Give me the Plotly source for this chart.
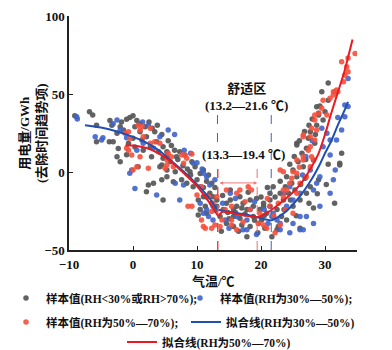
import plotly.graph_objects as go

# ---------------- data ----------------
gray_samples = [
    (-9.1,36),(-6.8,38.6),(-6.3,36.5),(-5.7,30),(-5.7,19.4),(-3.6,33),(-3.3,30),(-3.7,19.4),(-3.1,19.4),
    (-2.5,24.8),(-2,29),(-1.8,32),(-1,33.8),(-0.5,35),(0,36),(0.6,33),(-2.3,15),(-2.5,9.8),(-2,6.6),
    (-1,11),(-0.7,18.4),(0,21.6),(0.3,16),(1.1,25.8),(1.4,20.5),(1.6,14),(1.9,29),(2.1,22.6),(2.7,16.2),
    (2.9,9.8),(3.4,25.8),(3.7,19.4),(4,13),(4.5,4.5),(4.7,16.2),(5.3,9.8),(2.4,-8.3),(2.1,-12.6),(3.2,-7.2),
    (4.5,-5),(5.3,1.3),(0.8,3.4),(4.7,-18),(6.6,0.2),(5.3,-3),(5.8,6.6),(8.9,0.2),(10,-5),(10.2,-18),
    (10.5,-24),(11,1.3),(11.5,-6),(12,-13.7),(12.3,-20),(12.8,-24.4),(9.4,-9.4),(8.4,-7.2),(7.6,-5),
    (6.3,-6.2),(4.2,3.4),(4.7,8.8),(5.3,13),(6.8,9.8),(7.3,13),(8.1,10.9),(9.2,6.6),(9.7,3.4),(11.8,-1.9),
    (12.3,-7.2),(12.5,-15.8),(13.1,-18),(10.2,-27.6),(-1.5,27),(0.3,29),(1,31),(2.5,32),(3,28),(3.8,30),
    (4.5,24),(5.5,20),(6,17),(6.5,14),(7,8),(7.8,4),(8.5,2),(9,-2),(10.5,-1),(11,-10),(11.5,-16),(12.8,-10),
    (11.3,-22),(11.5,-26.5),(14.1,-24),(14.6,-20),(15.2,-18),(15.7,-24),(16.2,-22),(16.7,-15.8),(17.2,-20),
    (17.8,-24),(18.3,-18),(18.8,-22),(19.3,-17),(19.8,-24),(20.4,-20),(20.9,-26.5),(21.4,-22),(14.6,-33),
    (15.7,-35),(17,-34),(18.3,-35),(19.6,-33),(20.6,-36),(17.8,-41.5),(15.7,-28.6),(16.7,-29.7),(18.8,-28.6),
    (20.1,-30.8),(13.6,-28.6),(13.1,-22),(11,-15.8),(15.2,-11.5),(21.4,-13.7),(21.9,-28.6),(22.5,-37),
    (21.7,-41.5),(14,-15),(16,-26),(17.5,-27),(19,-31),(20.5,-28),(13.8,-38),(16.5,-38),(19.5,-39),(18,-13),
    (20,-16),(21,-10),(15,-30),(17,-23),(14.8,-26),(20.4,-22),(21.4,-18),(21.9,-9.4),(22.5,-24),(23,-13.7),
    (23.5,-18),(23.8,-9.4),(24,-3),(24.3,-13.7),(24.8,-7.2),(25,1.3),(25.3,-11.5),(25.6,-3),(25.8,6.6),
    (25.6,18.4),(26.4,12),(26.6,3.4),(26.9,-4),(27.1,15.2),(27.4,21.6),(27.7,25.8),(28.2,7.7),(28.4,18.4),
    (28.7,30),(29,37.6),(29.2,42.3),(29.7,33.3),(30,38.6),(29,-5),(28.2,-23),(26.1,-36),(32.6,12),(32.3,5.6),
    (22.7,-35),(24,-30.8),(23.2,-28.6),(25,-22),(26.1,-18),(27.1,-13.7),(27.7,-9.4),(25.6,17.3),(28.7,41.9),
    (29,36.5),(29.5,51.5),(30.5,57),(31.6,51.5),(32.3,4.5),(30.5,46),(24.5,5),(25.2,10),(26,20),(26.8,26),
    (27.5,30),(28,34),(28.5,24),(27,8),(26.2,-8),(24.6,-18),(23,-6),(22.2,-16),(23.6,-24),(25.5,-28),
    (27.5,-20),(28.8,-14),(30.2,-8),(31.5,-20),(30.5,5),
]
blue_samples = [
    (-8.8,35.4),(-8.7,34),(-5.9,22.6),(-4.9,20.5),(-4.7,22),(-3.1,31),(-2.5,33.3),(-2,26.9),(-0.2,1.3),
    (-0.5,-0.8),(0.3,-10.5),(2.4,30),(1.6,18.4),(3.7,-14.7),(6.6,-7.2),(7.3,-18),(7.9,-8.3),(9.4,5.6),
    (11.5,-3),(12,-8.3),(12.5,-22),(11,-26.5),(11.8,-28.6),(4.2,22.6),(3.2,15.2),(0.6,14),(1.5,32),(-1,22),
    (5.5,27),(6.5,24),(8,14),(9,12),(10,6),(10.8,2),(12.8,-5),(10.5,-20),(11.5,-24),(12.5,-30.8),(14.4,-30.8),
    (16.2,-28.6),(17.8,-30.8),(17.2,-37),(19.3,-40),(15.2,-13.7),(18.3,-24),(21.1,-33),(21.7,-28.6),
    (22.5,-30.8),(23,-37),(25,-33),(26.1,-37),(27.1,-28.6),(28.2,-33),(24,-22),(25,-18),(26.1,-13.7),
    (10.5,-9.4),(11,-0.8),(14,-20),(16,-17),(19,-19),(20.5,-24),(15,-36),(17.8,-37),(33.6,42),(33.1,35.4),
    (32.6,27),(31.8,20.5),(30.8,20.5),(31.6,1.3),(30.8,-13.7),(29.2,-22),(28.2,-11.5),(28.7,-7.2),(29.2,-3),
    (27.7,1.3),(24.5,-9.4),(23.5,-13.7),(26.1,-28.6),(26.6,-37),(24.5,-39),(23,-33),(21.9,-26.5),(30.3,24.8),
    (29.7,16.2),(30.8,10.9),(31.3,-5),(33.6,60),(33.1,43),(27,10),(28,20),(29.5,28),(26.5,-2),(32,35),
]
red_samples = [
    (-1.25,24.8),(-0.7,25.8),(0.8,30),(1.4,29),(2.7,28),(-0.7,14),(-0.2,10.9),(0.6,3.4),(0,1.3),(1.1,9.8),
    (2.4,2.4),(2.7,18.4),(3.4,19.4),(4.2,18.4),(5.3,4.5),(5,2.4),(9.2,11.5),(8.1,10.9),(8.4,8.8),(5.3,7.7),
    (6.3,3.4),(9.2,-22),(11,-35),(12.3,-25.4),(11.8,-15.8),(10,-14.7),(-1,15.2),(1.1,27),(-0.5,21.6),
    (1.6,22.6),(5.5,12),(6,9.8),(7.6,10.9),(7.9,5.6),(8.6,-22),(10.7,-30.8),(12.8,-34),(11.3,-36),
    (14.4,-24),(15.4,-22),(16.2,-13.7),(17.5,-19),(18.5,-11.5),(18.3,-24),(13.9,-30.8),(15.4,-34),(17.2,-32),
    (16.2,-37),(19.6,-33),(10.7,-9.4),(12.5,-20),(13.1,-15.8),(14.6,-11.5),(16.7,-11.5),(18,-9.4),
    (15.4,-30.8),(13.6,-35),(12.3,-36),(19.8,-26.5),(20.4,-34),(22.7,-20),(23.5,-15.8),(24,-11.5),
    (24.5,-7.2),(25.6,-13.7),(23.8,-24),(23,-34),(25,-26.5),(26.1,-7.2),(27.1,-3),(27.7,3.4),(28.2,7.7),
    (26.6,9.8),(27.7,16.2),(28.4,20.5),(28.7,27),(27.7,22.6),(23,1.3),(25,0.2),(26.6,23.7),(28.4,33.3),
    (29,37.6),(29.5,40.8),(30.3,36.5),(27.4,14),(27.9,9.8),(26.6,7.7),(25.6,-0.8),(23.5,-11.5),(21.4,-22),
    (22.2,-39),(20.9,-36),(23.5,0.2),(25.6,7.7),(26.6,22.6),(27.9,28),(28.4,36.5),(29.7,46),(31.3,49.4),
    (31.8,52.6),(32.6,70.7),(33.1,62),(33.4,67.5),(33.6,64.3),(34.7,76),(32.9,57.9),(30.8,47.2),(33.6,73),
    (31.3,51.5),(32,51.5),(24.8,-4),(26,3),(22,-28),(21,-17),
]

fit_blue_x = [-7.5, -5, -2.5, 0, 2, 4.2, 6, 8, 10, 12, 13.2, 15, 18, 21.6, 23, 24, 26, 28, 29.2, 30, 31, 32, 33, 33.6]
fit_blue_y = [30, 28.5, 26, 22.5, 19, 13.5, 7, 0, -8, -17, -24, -25.5, -27.5, -31, -28, -25, -16, -4, 5, 12, 20, 30, 39, 45]
fit_red_x = [-1.2, 0, 2, 4, 6, 8, 10, 11.3, 12.5, 13.3, 14, 17, 19.4, 21, 23, 25, 26.5, 28, 29, 30, 31, 32, 33, 34.3]
fit_red_y = [17, 17, 15.5, 12, 6.5, -1, -9, -16, -23, -28, -25.5, -27.5, -29, -26, -20, -13, -6, 4, 12, 24, 38, 51, 64, 85]

comfort_blue = [13.2, 21.6]   # 舒适区 (RH 30%—50%)
comfort_red = [13.3, 19.4]    # (RH 50%—70%)

labels = {
    "gray": "样本值(RH<30%或RH>70%);",
    "blue": "样本值(RH为30%—50%);",
    "red": "样本值(RH为50%—70%);",
    "fit_blue": "拟合线(RH为30%—50%)",
    "fit_red": "拟合线(RH为50%—70%)",
}

FONT = "Liberation Serif, Times New Roman, Noto Sans CJK SC, serif"
C_GRAY = "#5a5a5a"
C_BLUE = "#3f63c9"
C_RED = "#f5503c"
C_LBLUE = "#1f4fb0"
C_LRED = "#ea1a20"

fig = go.Figure()

def xs(p): return [a for a, _ in p]
def ys(p): return [b for _, b in p]

fig.add_trace(go.Scatter(x=xs(gray_samples), y=ys(gray_samples), mode="markers",
                         marker=dict(color=C_GRAY, size=5.5, opacity=0.95),
                         name="<b>" + labels["gray"] + "</b>", legend="legend"))
fig.add_trace(go.Scatter(x=xs(blue_samples), y=ys(blue_samples), mode="markers",
                         marker=dict(color=C_BLUE, size=5.5, opacity=0.9),
                         name="<b>" + labels["blue"] + "</b>", legend="legend2"))
fig.add_trace(go.Scatter(x=xs(red_samples), y=ys(red_samples), mode="markers",
                         marker=dict(color=C_RED, size=5.5, opacity=0.9),
                         name="<b>" + labels["red"] + "</b>", legend="legend3"))
fig.add_trace(go.Scatter(x=fit_blue_x, y=fit_blue_y, mode="lines", line=dict(color=C_LBLUE, width=2, shape="spline", smoothing=0.6),
                         name="<b>" + labels["fit_blue"] + "</b>", legend="legend4"))
fig.add_trace(go.Scatter(x=fit_red_x, y=fit_red_y, mode="lines", line=dict(color=C_LRED, width=2, shape="spline", smoothing=0.6),
                         name="<b>" + labels["fit_red"] + "</b>", legend="legend5"))

# comfort-zone dashed lines
for xv in comfort_blue:
    fig.add_shape(type="line", x0=xv, x1=xv, y0=-50, y1=36.5, xref="x", yref="y",
                  line=dict(color="#3a62c8", width=1, dash="dash"))
for xv in comfort_red:
    fig.add_shape(type="line", x0=xv, x1=xv, y0=-50, y1=2.5, xref="x", yref="y",
                  line=dict(color="#f07070", width=1, dash="dash"))

# double arrow between red comfort bounds
fig.add_annotation(x=comfort_red[1], y=-7, ax=comfort_red[0], ay=-7, xref="x", yref="y",
                   axref="x", ayref="y", text="", showarrow=True, arrowhead=2, arrowside="end+start",
                   arrowsize=0.7, arrowwidth=1, arrowcolor="#f07878", standoff=0, startstandoff=0)

ann_font = dict(family=FONT, size=13, color="#111", weight="bold")
fig.add_annotation(x=17.8, y=48, xref="x", yref="y", text="舒适区<br>(13.2—21.6 ℃)",
                   showarrow=False, font=ann_font)
fig.add_annotation(x=17.2, y=11, xref="x", yref="y", text="(13.3—19.4 ℃)", showarrow=False, font=ann_font)

# axis titles
fig.add_annotation(x=-0.125, y=0.5, xref="paper", yref="paper", xanchor="center", yanchor="middle",
                   textangle=-90, text="用电量/GWh<br>(去除时间趋势项)", showarrow=False,
                   font=dict(family=FONT, size=13, color="#111", weight="bold"))
fig.add_annotation(x=0.5, y=-0.135, xref="paper", yref="paper", xanchor="center", yanchor="middle",
                   text="气温/℃", showarrow=False,
                   font=dict(family=FONT, size=13, color="#111", weight="bold"))

W, H = 392, 350
leg_font = dict(family=FONT, size=11.5, color="#111")
def leg(px_left, px_mid_y):
    return dict(orientation="h", xref="container", yref="container", xanchor="left", yanchor="middle",
                x=px_left / W, y=1 - px_mid_y / H, font=leg_font, itemwidth=30,
                bgcolor="rgba(0,0,0,0)", borderwidth=0)

fig.update_layout(
    width=W, height=H,
    margin=dict(l=69, r=35, t=16, b=100, autoexpand=False),
    paper_bgcolor="white", plot_bgcolor="white",
    showlegend=True,
    legend=leg(6, 298),
    legend2=leg(180, 298),
    legend3=leg(6, 322),
    legend4=leg(186, 322),
    legend5=leg(122, 342),
    xaxis=dict(range=[-10, 35], tickvals=[-10, 0, 10, 20, 30, 35], ticktext=["−10", "0", "10", "20", "30", ""],
               showline=True, linecolor="#222", linewidth=1.5, ticks="inside", ticklen=4, tickcolor="#222",
               showgrid=False, zeroline=False, ticklabelstandoff=2,
               tickfont=dict(family=FONT, size=13, color="#111", weight="bold")),
    yaxis=dict(range=[-50, 100], tickvals=[-50, 0, 50, 100],
               showline=True, linecolor="#222", linewidth=1.5, ticks="inside", ticklen=4, tickcolor="#222",
               showgrid=False, zeroline=False,
               tickfont=dict(family=FONT, size=13, color="#111", weight="bold")),
)

fig.write_html("out.html")
